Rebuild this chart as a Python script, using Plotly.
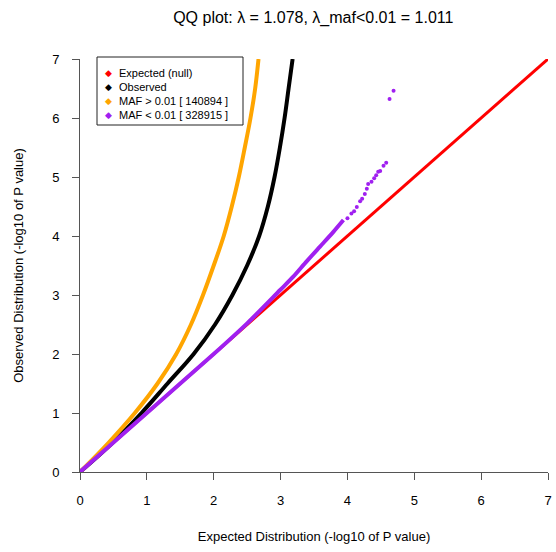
import plotly.graph_objects as go

# ---- data ----
null_x = [0, 7]
null_y = [0, 7]

obs_x = [0, 0.49, 0.92, 1.31, 1.70, 2.02, 2.28, 2.50, 2.68, 2.81, 2.91, 2.99, 3.06, 3.12, 3.18]
obs_y = [0, 0.5, 1.0, 1.5, 2.0, 2.5, 3.0, 3.5, 4.0, 4.5, 5.0, 5.5, 6.0, 6.5, 7.0]

maf_hi_x = [0, 0.43, 0.82, 1.16, 1.44, 1.66, 1.84, 2.00, 2.15, 2.27, 2.375, 2.465, 2.55, 2.62, 2.67]
maf_hi_y = [0, 0.5, 1.0, 1.5, 2.0, 2.5, 3.0, 3.5, 4.0, 4.5, 5.0, 5.5, 6.0, 6.5, 7.0]

maf_lo_x = [0, 1.0, 2.0, 2.5, 2.99, 3.19, 3.39, 3.59, 3.79, 3.94]
maf_lo_y = [0, 1.0, 2.0, 2.52, 3.08, 3.31, 3.57, 3.82, 4.07, 4.27]

maf_lo_tail_x = [4.00, 4.06, 4.10, 4.14, 4.19, 4.22, 4.26, 4.29, 4.31, 4.36, 4.40, 4.43, 4.46, 4.49, 4.54, 4.58, 4.63, 4.69]
maf_lo_tail_y = [4.30, 4.38, 4.42, 4.49, 4.59, 4.63, 4.71, 4.80, 4.88, 4.92, 4.98, 5.03, 5.09, 5.10, 5.19, 5.24, 6.32, 6.46]

legend_labels = ["Expected (null)", "Observed", "MAF > 0.01 [ 140894 ]", "MAF < 0.01 [ 328915 ]"]
colors = ["#FF0000", "#000000", "#FFA500", "#A020F0"]

x_ticks = [0, 1, 2, 3, 4, 5, 6, 7]
y_ticks = [0, 1, 2, 3, 4, 5, 6, 7]

title = "QQ plot: \u03bb = 1.078, \u03bb_maf<0.01 = 1.011"

FONT = "Liberation Sans, Arial, sans-serif"

W, H = 556, 552
ML, MR, MT, MB = 80, 8, 59, 80
PW, PH = W - ML - MR, H - MT - MB


def px_x(p):
    return (p - ML) / PW


def px_y(p):
    return (H - MB - p) / PH


fig = go.Figure()

fig.add_trace(go.Scatter(x=null_x, y=null_y, mode="lines",
                         line=dict(color=colors[0], width=3), showlegend=False, hoverinfo="skip"))
fig.add_trace(go.Scatter(x=obs_x, y=obs_y, mode="lines",
                         line=dict(color=colors[1], width=4, shape="spline", smoothing=1), showlegend=False))
fig.add_trace(go.Scatter(x=maf_hi_x, y=maf_hi_y, mode="lines",
                         line=dict(color=colors[2], width=4, shape="spline", smoothing=1), showlegend=False))
fig.add_trace(go.Scatter(x=maf_lo_x, y=maf_lo_y, mode="lines",
                         line=dict(color=colors[3], width=4, shape="spline", smoothing=0.8), showlegend=False))
fig.add_trace(go.Scatter(x=maf_lo_tail_x, y=maf_lo_tail_y, mode="markers",
                         marker=dict(color=colors[3], size=4), showlegend=False))

# manual legend box (R-style, compact)
fig.add_shape(type="rect", xref="paper", yref="paper",
              x0=px_x(97), x1=px_x(243), y0=px_y(125), y1=px_y(57),
              line=dict(color="#222222", width=1), fillcolor="white", layer="above")
for i, (lab, col) in enumerate(zip(legend_labels, colors)):
    ypx = 73 + 14 * i
    fig.add_annotation(xref="paper", yref="paper", x=px_x(108), y=px_y(ypx),
                       text="\u25c6", showarrow=False, xanchor="center", yanchor="middle",
                       font=dict(family="DejaVu Sans", size=9, color=col))
    fig.add_annotation(xref="paper", yref="paper", x=px_x(117), y=px_y(ypx),
                       text=lab, showarrow=False, xanchor="left", yanchor="middle",
                       font=dict(family=FONT, size=11, color="#000000"))

axis_common = dict(
    showgrid=False, zeroline=False, showline=True, linecolor="#555555", linewidth=1,
    ticks="outside", ticklen=7, tickcolor="#555555", tickwidth=1,
    tickfont=dict(family=FONT, size=13, color="#000000"),
    range=[0, 7], tickmode="array",
    mirror=False, automargin=False,
)

fig.update_layout(
    width=W, height=H,
    margin=dict(l=ML, r=MR, t=MT, b=MB, autoexpand=False),
    paper_bgcolor="white", plot_bgcolor="white",
    title=dict(text=title, x=0.5635, xanchor="center", y=1 - 17 / H, yanchor="middle",
               font=dict(family=FONT, size=16, color="#000000")),
    xaxis=dict(**axis_common, tickvals=x_ticks,
               title=dict(text="Expected Distribution (-log10 of P value)", standoff=25,
                          font=dict(family=FONT, size=13, color="#000000")),
               ticklabelstandoff=9),
    yaxis=dict(**axis_common, tickvals=y_ticks,
               title=dict(text="Observed Distribution (-log10 of P value)", standoff=25,
                          font=dict(family=FONT, size=13, color="#000000")),
               ticklabelstandoff=10),
    showlegend=False,
)

fig.write_html("out.html")
